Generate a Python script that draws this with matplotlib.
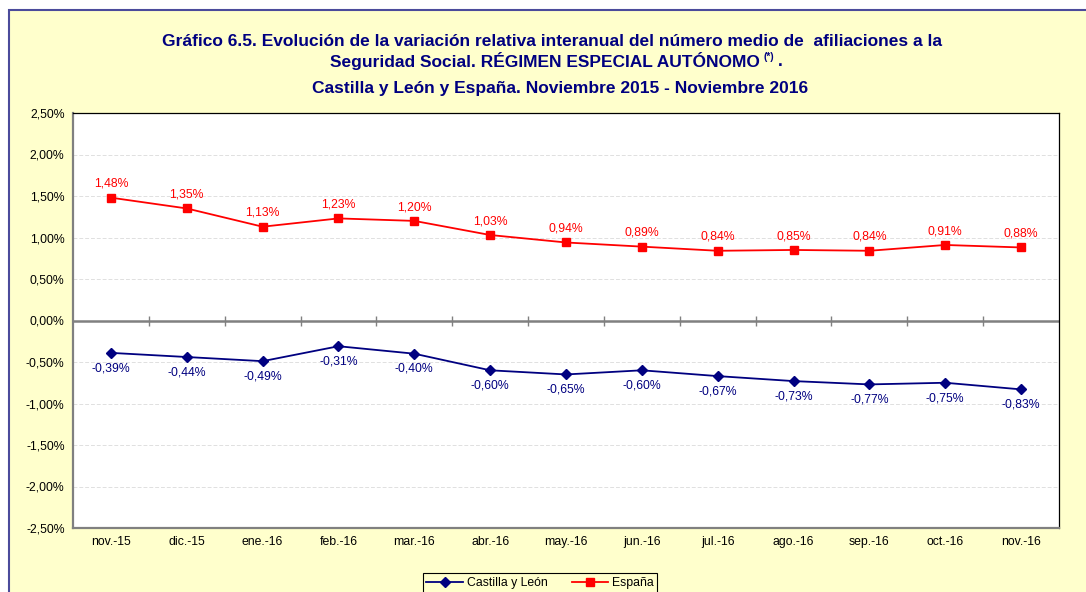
import matplotlib
matplotlib.use("Agg")
import matplotlib.pyplot as plt
from matplotlib.patches import Rectangle
import numpy as np

plt.rcParams['font.family'] = ['Liberation Sans', 'DejaVu Sans']

meses = ["nov.-15", "dic.-15", "ene.-16", "feb.-16", "mar.-16", "abr.-16", "may.-16",
         "jun.-16", "jul.-16", "ago.-16", "sep.-16", "oct.-16", "nov.-16"]
espana = [1.48, 1.35, 1.13, 1.23, 1.20, 1.03, 0.94, 0.89, 0.84, 0.85, 0.84, 0.91, 0.88]
cyl = [-0.39, -0.44, -0.49, -0.31, -0.40, -0.60, -0.65, -0.60, -0.67, -0.73, -0.77, -0.75, -0.83]
yticks = [-2.5, -2.0, -1.5, -1.0, -0.5, 0.0, 0.5, 1.0, 1.5, 2.0, 2.5]

NAVY = '#000080'
RED = '#FF0000'
BG = '#FFFFCC'
FS = 8.8
TFS = 12.5


def pct(v):
    return f"{v:.2f}%".replace('.', ',')


fig = plt.figure(figsize=(10.86, 5.92), dpi=100, facecolor='white')
# marco del gráfico
fig.patches.append(Rectangle((9 / 1086, -0.05), 1.1, 1.05 - 10 / 592,
                             transform=fig.transFigure, facecolor=BG,
                             edgecolor='#4B4B9B', linewidth=1.5, zorder=-10))

ax = fig.add_axes([73 / 1086, 1 - 528 / 592, (1059 - 73) / 1086, (528 - 113) / 592])
ax.set_facecolor('white')

x = np.arange(len(meses))

ax.set_xlim(-0.5, len(meses) - 0.5)
ax.set_ylim(-2.5, 2.5)
ax.set_yticks(yticks)
ax.set_yticklabels([pct(v) for v in yticks], fontsize=FS)
ax.set_xticks(x)
ax.set_xticklabels(meses, fontsize=FS)
ax.tick_params(axis='both', length=0, pad=6)

for v in yticks:
    if v != 0:
        ax.axhline(v, color='#E0E0E0', linestyle=(0, (4, 2)), linewidth=0.7, zorder=0)

# eje en el cero con marcas entre categorías
ax.axhline(0, color='#808080', linewidth=1.8, zorder=1)
ax.plot(x[:-1] + 0.5, np.zeros(len(x) - 1), linestyle='none', marker='|',
        markersize=7, markeredgewidth=1, color='#808080', zorder=1)

for s in ['left', 'bottom']:
    ax.spines[s].set_color('#808080')
    ax.spines[s].set_linewidth(1.6)
for s in ['top', 'right']:
    ax.spines[s].set_color('black')
    ax.spines[s].set_linewidth(0.9)

ax.plot(x, cyl, color=NAVY, marker='D', markersize=5, linewidth=1.3, label='Castilla y León', zorder=3)
ax.plot(x, espana, color=RED, marker='s', markersize=6, linewidth=1.3, label='España', zorder=3)

for i, v in enumerate(espana):
    ax.annotate(pct(v), (x[i], v), xytext=(0, 10), textcoords='offset points',
                ha='center', va='center', fontsize=FS, color=RED)
for i, v in enumerate(cyl):
    ax.annotate(pct(v), (x[i], v), xytext=(0, -11), textcoords='offset points',
                ha='center', va='center', fontsize=FS, color=NAVY)

fig.text(552 / 1086, 1 - 42 / 592,
         "Gráfico 6.5. Evolución de la variación relativa interanual del número medio de  afiliaciones a la",
         ha='center', va='center', fontsize=TFS, fontweight='bold', color=NAVY)
t2 = fig.text(545 / 1086, 1 - 61 / 592,
              "Seguridad Social. RÉGIMEN ESPECIAL AUTÓNOMO",
              ha='center', va='center', fontsize=TFS, fontweight='bold', color=NAVY)
fig.canvas.draw()
bb = t2.get_window_extent()
fig.text((bb.x1 + 4) / 1086, 1 - 57 / 592, "(*)", ha='left', va='center',
         fontsize=7, fontweight='bold', color=NAVY)
fig.text((bb.x1 + 18) / 1086, 1 - 61 / 592, ".", ha='left', va='center',
         fontsize=TFS, fontweight='bold', color=NAVY)
fig.text(560 / 1086, 1 - 88 / 592,
         "Castilla y León y España. Noviembre 2015 - Noviembre 2016",
         ha='center', va='center', fontsize=TFS, fontweight='bold', color=NAVY)

leg = fig.legend(loc='center', bbox_to_anchor=(540 / 1086, 1 - 583 / 592), ncol=2,
                 fontsize=FS, frameon=True, fancybox=False, edgecolor='black',
                 facecolor=BG, framealpha=1, handlelength=3, columnspacing=2.0,
                 borderpad=0.3, handletextpad=0.3)
leg.get_frame().set_linewidth(0.8)

fig.savefig('out.png', dpi=100, facecolor=fig.get_facecolor())
